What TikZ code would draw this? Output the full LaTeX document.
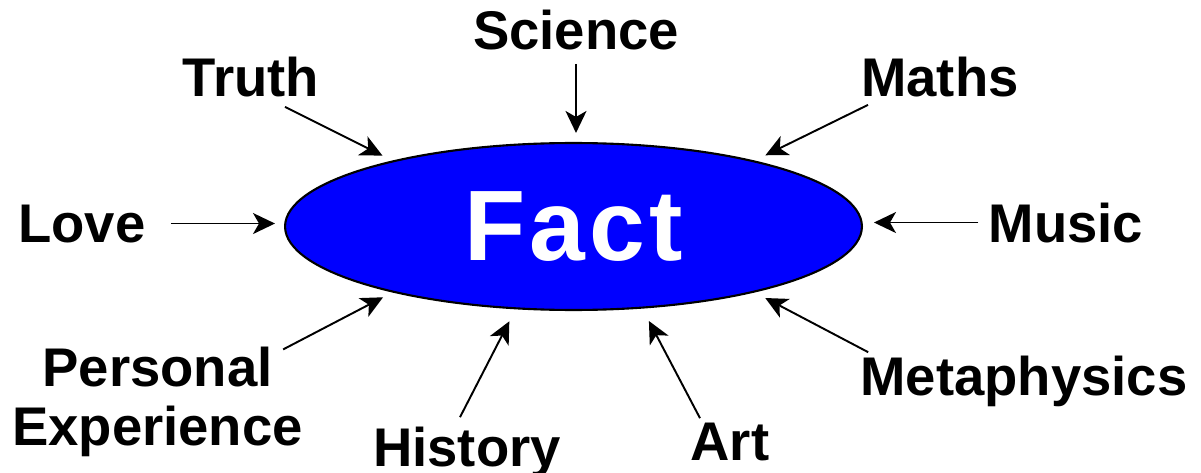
\documentclass[tikz,border=0pt]{standalone}
\usepackage{fontspec}
\setmainfont{Liberation Sans}
\usepackage{tikz}
\usetikzlibrary{arrows.meta, calc, shapes.geometric, positioning}
\definecolor{factblue}{HTML}{0000FF}

\begin{document}
\begin{tikzpicture}[
  x=0.02cm, y=-0.02cm,
  topic/.style={
    font=\bfseries\fontsize{31}{34}\selectfont, inner sep=0pt, text=black,
  },
  core/.style={
    ellipse, draw=black, line width=1.2pt, fill=#1, minimum width=11.54cm,
    minimum height=3.34cm, inner sep=0pt, text=white,
    font=\bfseries\fontsize{57}{60}\selectfont,
  },
  feed/.style={
    -{Stealth[length=0.44cm, width=0.42cm, inset=0.12cm]}, line width=1.1pt,
  },
]
  \useasboundingbox (0,0) rectangle (1201,473);

  % Central node
  \node[core=factblue] (fact) at (573.5,226.5) {\addfontfeature{LetterSpace=4}Fact};

  % Surrounding topics
  \node[topic, anchor=base] (science) at (576,50) {Science};
  \node[topic, anchor=base] (truth) at (251,97) {Truth};
  \node[topic, anchor=base] (maths) at (940,97) {Maths};
  \node[topic, anchor=base] (love) at (82,242) {Love};
  \node[topic, anchor=base] (music) at (1066,242) {Music};
  \node[topic, align=center] (pers) at (157.5,402) {Personal\\Experience};
  \node[topic, anchor=base] (meta) at (1024,395) {Metaphysics};
  \node[topic, anchor=base] (history) at (467,466) {History};
  \node[topic, anchor=base] (art) at (730,460) {Art};

  % Arrows into the fact
  \draw[feed, shorten >=0.18cm] ($(science.south)+(0,13)$) -- (science.south |- fact.north);
  \draw[feed, shorten >=0.22cm] ($(truth.south)+(34,9)$) -- (fact.160);
  \draw[feed, shorten >=0.24cm] ($(maths.south)+(-72,7)$) -- (fact.20);
  \draw[feed, shorten <=0.5cm, shorten >=0.18cm] (love.east) -- (love.east -| fact.west);
  \draw[feed, shorten <=0.2cm, shorten >=0.22cm] (music.west) -- (music.west -| fact.east);
  \draw[feed, shorten >=0.21cm] ($(pers.north east)+(-20,3)$) -- (fact.200);
  \draw[feed, shorten >=0.24cm] ($(meta.north west)+(8,-3)$) -- (fact.340);
  \draw[feed, shorten >=0.27cm] ($(history.north)+(-7,-9)$) -- (fact.235);
  \draw[feed, shorten >=0.28cm] ($(art.north)+(-30,-4)$) -- (fact.310);

\end{tikzpicture}
\end{document}
